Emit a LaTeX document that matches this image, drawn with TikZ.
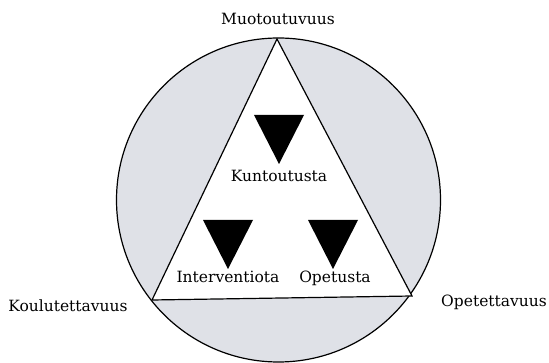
\documentclass[tikz,border=0pt]{standalone}
\usepackage{tikz}
\usepackage{fontspec}
\setmainfont{DejaVu Serif}
\definecolor{harmaa}{RGB}{223,225,231}

\begin{document}
\begin{tikzpicture}[x=1pt, y=-1pt,
    teksti/.style={font=\fontsize{15.5}{18}\selectfont, inner sep=0pt, anchor=base},
    viiva/.style={line width=1.2pt, black}]

    \useasboundingbox (0,0) rectangle (549,363);

    % Ympyrä
    \begin{scope}
        \clip (0,0) rectangle (549,363);
        \filldraw[viiva, fill=harmaa] (278.5,200) circle (162);
    \end{scope}

    % Kolmio
    \coordinate (ylä) at (277,39);
    \coordinate (vasen) at (152,300);
    \coordinate (oikea) at (412,296);
    \filldraw[viiva, fill=white, line join=miter] (ylä) -- (vasen) -- (oikea) -- cycle;

    % Mustat kolmiot
    \foreach \x/\y in {279/115, 228/220, 333/220}
        \fill[black] (\x-25,\y) -- (\x+25,\y) -- (\x,\y+49) -- cycle;

    % Tekstit
    \node[teksti] (muoto) at (278,25) {Muotoutuvuus};
    \node[teksti] (koulu) at (68,312) {Koulutettavuus};
    \node[teksti] (opet) at (494,307) {Opetettavuus};
    \node[teksti] (kunto) at (279,182) {Kuntoutusta};
    \node[teksti] (inter) at (228,283) {Interventiota};
    \node[teksti] (opetus) at (335,283) {Opetusta};

\end{tikzpicture}
\end{document}
